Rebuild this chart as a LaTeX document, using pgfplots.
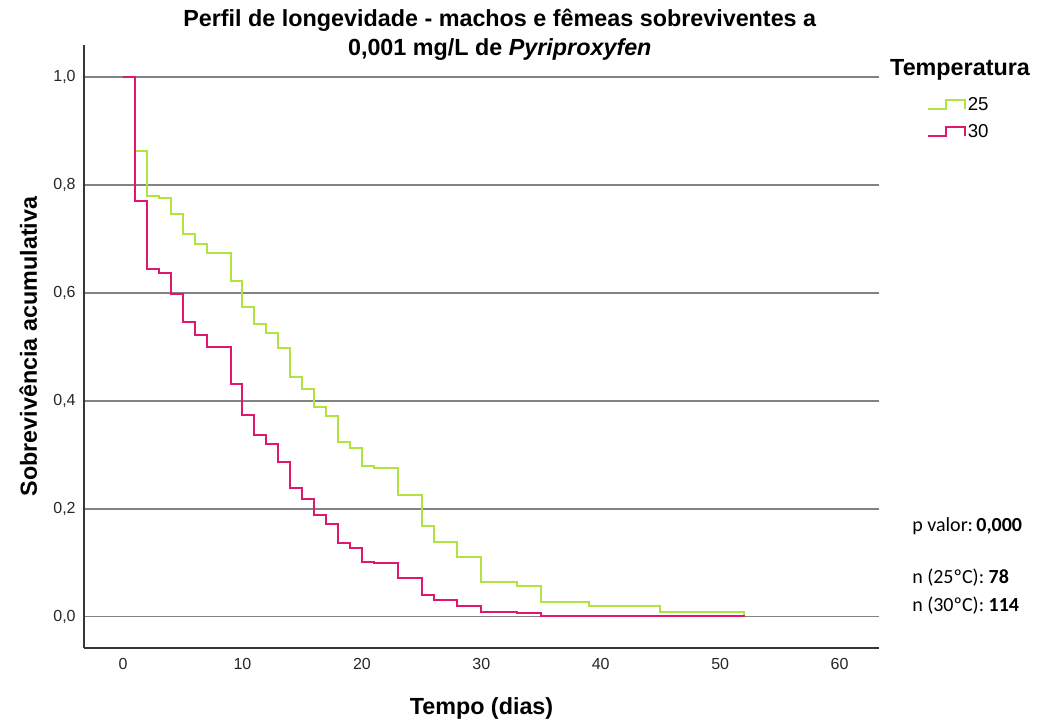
\documentclass[border=0pt]{standalone}
\usepackage{fontspec}
\setmainfont{Liberation Sans}
\newfontfamily\carlito{Carlito}
\usepackage{pgfplots}
\pgfplotsset{compat=1.18}

\definecolor{tempA}{RGB}{176,226,64}
\definecolor{tempB}{RGB}{222,24,110}
\definecolor{gridgray}{RGB}{130,130,130}
\definecolor{axisgray}{RGB}{55,55,55}

% Kaplan-Meier estimates (day, cumulative survival)
\pgfplotstableread{
day  surv
0    1.000
1    0.862
2    0.779
3    0.775
4    0.746
5    0.709
6    0.690
7    0.673
9    0.622
10   0.574
11   0.542
12   0.525
13   0.497
14   0.444
15   0.422
16   0.389
17   0.372
18   0.324
19   0.312
20   0.280
21   0.275
23   0.226
25   0.168
26   0.139
28   0.111
30   0.064
33   0.056
35   0.028
39   0.019
45   0.008
52   0.000
}\tabA

\pgfplotstableread{
day  surv
0    1.000
1    0.770
2    0.644
3    0.637
4    0.598
5    0.545
6    0.522
7    0.499
9    0.431
10   0.374
11   0.337
12   0.320
13   0.287
14   0.238
15   0.218
16   0.188
17   0.172
18   0.136
19   0.127
20   0.102
21   0.100
23   0.071
25   0.041
26   0.031
28   0.020
30   0.008
33   0.006
35   0.002
52   0.000
}\tabB

\begin{document}
\begin{tikzpicture}
\path[use as bounding box] (-63pt,-55.5pt) rectangle (718.5pt,486pt);
\begin{axis}[
  at={(0,0)}, anchor=south west,
  scale only axis, width=596.25pt, height=452.25pt,
  xmin=-3.27, xmax=63.3, ymin=-0.058, ymax=1.059,
  clip=false,
  axis x line=bottom, axis y line=left,
  axis line style={-, line width=1.1pt, draw=axisgray},
  xtick={0,10,20,30,40,50,60},
  ytick={0,0.2,0.4,0.6,0.8,1},
  major tick length=0pt,
  ymajorgrids,
  grid style={line width=1.2pt, draw=gridgray},
  /pgf/number format/assume math mode=true,
  ticklabel style={font=\fontsize{12}{14}\selectfont, text=black!85},
  yticklabel style={/pgf/number format/.cd, fixed, fixed zerofill, precision=1, use comma, /tikz/.cd, xshift=-2.75pt},
  xticklabel style={yshift=-4.25pt},
  xlabel={Tempo (dias)},
  ylabel={Sobrevivência acumulativa},
  label style={font=\bfseries\fontsize{17.5}{21}\selectfont},
  xlabel style={at={(axis description cs:0.5,-0.0995)}, anchor=center},
  ylabel style={at={(axis description cs:-0.0700,0.5)}, anchor=center},
  title={Perfil de longevidade - machos e fêmeas sobreviventes a\\0,001 mg/L de {\itshape Pyriproxyfen}},
  title style={at={(axis description cs:0.523,1.0033)}, anchor=center, align=center,
    font=\bfseries\fontsize{17.5}{22}\selectfont},
  legend style={draw=none, fill=none, at={(axis description cs:1.06,0.917)}, anchor=north west,
    font=\fontsize{14}{16}\selectfont, inner sep=0pt, row sep=6pt,
    nodes={inner sep=1.5pt}},
  legend cell align=left,
  legend image code/.code={\draw[#1, line width=1.4pt]
    (0pt,-3.4pt) -- (13.5pt,-3.4pt) -- (13.5pt,3.4pt) -- (27.75pt,3.4pt) -- (27.75pt,-3.4pt);},
]
\addplot[const plot, color=tempA, line width=1.5pt] table[x=day, y=surv] {\tabA};
\addlegendentry{25}
\addplot[const plot, color=tempB, line width=1.5pt] table[x=day, y=surv] {\tabB};
\addlegendentry{30}

\node[anchor=west, font=\bfseries\fontsize{17.5}{21}\selectfont, inner sep=0pt]
  at (axis description cs:1.0138,0.9585) {Temperatura};
\node[anchor=west, font=\carlito\fontsize{15}{18}\selectfont, inner sep=0pt]
  at (axis description cs:1.0415,0.2023) {p valor:\,\textbf{0,000}};
\node[anchor=west, font=\carlito\fontsize{15}{18}\selectfont, inner sep=0pt]
  at (axis description cs:1.0415,0.1161) {n (25ºC): \textbf{78}};
\node[anchor=west, font=\carlito\fontsize{15}{18}\selectfont, inner sep=0pt]
  at (axis description cs:1.0415,0.0697) {n (30ºC): \textbf{114}};
\end{axis}
\end{tikzpicture}
\end{document}
